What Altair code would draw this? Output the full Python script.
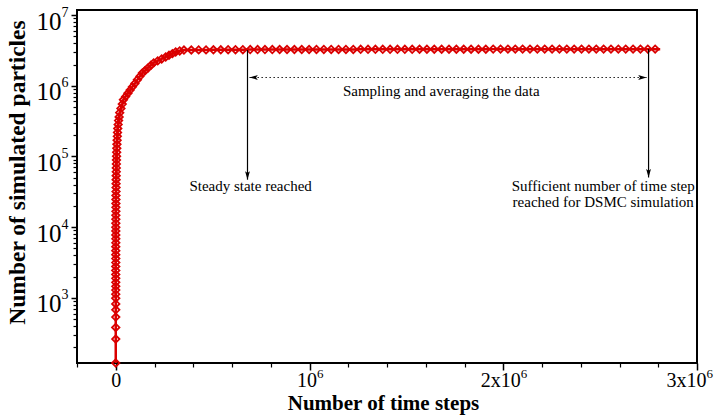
import altair as alt
import pandas as pd

# ---- particle count history (time step, number of simulated particles) ----
steps = [
    0, 10, 15, 22, 28, 34, 41, 47, 54, 61, 69, 79, 90, 102, 116, 132, 150, 170,
    194, 220, 250, 285, 324, 368, 417, 475, 542, 617, 700, 796, 904, 1030, 1170,
    1330, 1510, 1720, 1960, 2230, 2530, 2880, 3270, 3720, 4210, 4790, 5460, 6210,
    7080, 8040, 9130, 10400, 12200, 14500, 17500, 20600, 26800, 33500, 39700,
    51000, 62900, 74200, 86100, 99000, 111900, 124800, 137600, 152100, 166500,
    181500, 195900, 216500, 237100, 257800, 274800, 292300, 309300, 330000,
    352000, 390000, 428000, 466000, 504000, 542000, 580000, 618000, 656000,
    694000, 732000, 770000, 808000, 846000, 884000, 922000, 960000, 998000,
    1036000, 1074000, 1112000, 1150000, 1188000, 1226000, 1264000, 1302000,
    1340000, 1378000, 1416000, 1454000, 1492000, 1530000, 1568000, 1606000,
    1644000, 1682000, 1720000, 1758000, 1796000, 1834000, 1872000, 1910000,
    1948000, 1986000, 2024000, 2062000, 2100000, 2138000, 2176000, 2214000,
    2252000, 2290000, 2328000, 2366000, 2404000, 2442000, 2480000, 2518000,
    2556000, 2594000, 2632000, 2670000, 2708000, 2746000, 2784000,
]
particles = [
    120, 262, 382, 535, 678, 822, 990, 1130, 1290, 1460, 1660, 1890, 2150, 2450,
    2780, 3160, 3600, 4090, 4650, 5290, 6010, 6840, 7780, 8840, 10000, 11400,
    13000, 14800, 16800, 19100, 21700, 24700, 28100, 31900, 36300, 41300, 46900,
    53400, 60700, 69000, 78500, 89200, 101000, 115000, 131000, 149000, 170000,
    193000, 219000, 249000, 283000, 322000, 362000, 417000, 479000, 552000,
    635000, 705000, 784000, 870000, 968000, 1080000, 1220000, 1360000, 1520000,
    1650000, 1790000, 1950000, 2110000, 2250000, 2400000, 2560000, 2700000,
    2850000, 3010000, 3110000,
    3200000, 3210000, 3220000, 3220000, 3230000, 3230000, 3240000, 3240000,
    3240000, 3250000, 3250000, 3250000, 3250000, 3260000, 3260000, 3260000,
    3260000, 3260000, 3270000, 3270000, 3270000, 3270000, 3270000, 3270000,
    3280000, 3280000, 3280000, 3280000, 3280000, 3280000, 3280000, 3280000,
    3290000, 3290000, 3290000, 3290000, 3290000, 3290000, 3290000, 3290000,
    3290000, 3290000, 3300000, 3300000, 3300000, 3300000, 3300000, 3300000,
    3300000, 3300000, 3300000, 3300000, 3300000, 3300000, 3300000, 3300000,
    3300000, 3300000, 3300000, 3300000, 3300000, 3300000, 3300000, 3300000,
    3300000,
]
# last recorded step: the line runs on to it without a symbol
end_step = [2810000]
end_particles = [3300000]

# tick labels: mantissa text and superscript exponent drawn as separate labels
x_major = [0, 1000000, 2000000, 3000000]
x_base_labels = ["0", "10", "2x10", "3x10"]
x_exp_labels = ["", "6", "6", "6"]
y_major = [1e3, 1e4, 1e5, 1e6, 1e7]

RED = "#da0000"
SERIF = "Liberation Serif"

hist = pd.DataFrame({"step": steps, "n": particles})
line_df = pd.DataFrame({"step": steps + end_step, "n": particles + end_particles})

xscale = alt.Scale(domain=[-200000, 3000000], nice=False, zero=False)
yscale = alt.Scale(type="log", domain=[120, 11800000], nice=False)

x_minor = [v for v in range(-200000, 3000001, 200000) if v not in x_major]
y_minor = [m * 10 ** e for e in range(2, 7) for m in range(2, 10) if m * 10 ** e >= 120]


def lookup_expr(values, labels):
    parts = [f"datum.value == {v} ? '{t}'" for v, t in zip(values[:-1], labels[:-1])]
    return " : ".join(parts) + f" : '{labels[-1]}'"


x_exp_values = [v for v, t in zip(x_major, x_exp_labels) if t]

x_base_axis = alt.Axis(
    orient="bottom", values=x_major, labelExpr=lookup_expr(x_major, x_base_labels),
    tickSize=7, tickWidth=1.5, labelFontSize=20, labelPadding=0, labelFlush=False,
    labelOffset={
        "condition": [
            {"test": "datum.value == 0", "value": 0},
            {"test": "datum.value == 3000000", "value": -11},
        ],
        "value": -3,
    },
    grid=False, domain=False,
    title="Number of time steps", titleFontSize=21, titleFontWeight="bold",
    titleX=306, titleY=40, titleBaseline="middle", titleAlign="center",
)
x_exp_axis = alt.Axis(
    orient="bottom", values=x_exp_values,
    labelExpr=lookup_expr(x_exp_values, [t for t in x_exp_labels if t]),
    tickSize=3, tickOpacity=0, labelFontSize=13, labelPadding=1, labelAlign="left",
    labelFlush=False,
    labelOffset={
        "condition": [
            {"test": "datum.value == 1000000", "value": 7},
            {"test": "datum.value == 3000000", "value": 9},
        ],
        "value": 17,
    },
    grid=False, domain=False, title="",
)
x_minor_axis = alt.Axis(
    orient="bottom", values=x_minor, labels=False, tickSize=4, tickWidth=1.2,
    grid=False, domain=False, title="",
)

y_base_axis = alt.Axis(
    orient="left", values=y_major, labelExpr="'10'", tickSize=6, tickWidth=1.5,
    labelFontSize=25, labelPadding=10, labelOffset=6, labelBaseline="middle",
    labelFlush=False, grid=False, domain=False,
    title="Number of simulated particles", titleFontSize=23.5,
    titleFontWeight="bold", titleX=-60, titleY=162, titleBaseline="middle",
    titleAlign="center", titleAngle=-90,
)
y_exp_axis = alt.Axis(
    orient="left", values=y_major, labelExpr="format(log(datum.value) / LN10, '.0f')",
    tickSize=6, tickOpacity=0, labelFontSize=14, labelPadding=3, labelOffset=-3,
    labelBaseline="middle", labelFlush=False, grid=False, domain=False, title="",
)
y_minor_axis = alt.Axis(
    orient="left", values=y_minor, labels=False, tickSize=4, tickWidth=1.2,
    grid=False, domain=False, title="",
)

curve = alt.Chart(line_df).mark_line(color=RED, strokeWidth=2.5).encode(
    x=alt.X("step:Q", scale=xscale, axis=x_base_axis),
    y=alt.Y("n:Q", scale=yscale, axis=y_base_axis),
)
symbols = alt.Chart(hist).mark_point(
    shape="diamond", filled=False, color=RED, size=55, strokeWidth=1.8, opacity=1
).encode(
    x=alt.X("step:Q", scale=xscale, axis=x_minor_axis),
    y=alt.Y("n:Q", scale=yscale, axis=y_minor_axis),
)

# ---- annotations ----
ARROW = "M0,0L-0.8,-2.8L0,-2.2L0.8,-2.8Z"

vlines = pd.DataFrame({"x": [680000, 2750000], "top": [3200000, 3300000],
                       "tip": [47000, 50500]})
drops = alt.Chart(vlines).mark_rule(color="black", strokeWidth=1.2).encode(
    x=alt.X("x:Q", scale=xscale, axis=x_exp_axis),
    y=alt.Y("top:Q", scale=yscale, axis=y_exp_axis),
    y2="tip:Q",
)
drop_heads = alt.Chart(vlines).mark_point(
    shape=ARROW, filled=True, color="black", size=36, opacity=1
).encode(
    x=alt.X("x:Q", scale=xscale, axis=None),
    y=alt.Y("tip:Q", scale=yscale, axis=None),
)

span = pd.DataFrame({"x": [690000], "x2": [2740000], "y": [1310000]})
span_line = alt.Chart(span).mark_rule(
    color="#222222", strokeWidth=1.2, strokeDash=[1.5, 2.5]
).encode(
    x=alt.X("x:Q", scale=xscale, axis=None),
    x2="x2:Q",
    y=alt.Y("y:Q", scale=yscale, axis=None),
)
span_ends = pd.DataFrame({"x": [690000, 2740000], "y": [1310000, 1310000],
                          "angle": [90, 270]})
span_heads = alt.Chart(span_ends).mark_point(
    shape=ARROW, filled=True, color="black", size=36, opacity=1
).encode(
    x=alt.X("x:Q", scale=xscale, axis=None),
    y=alt.Y("y:Q", scale=yscale, axis=None),
    angle=alt.Angle("angle:Q", scale=None),
)

notes = pd.DataFrame({
    "x": [696000, 1680000, 2516000, 2516000],
    "y": [37800, 850000, 37800, 22500],
    "text": ["Steady state reached", "Sampling and averaging the data",
             "Sufficient number of time step", "reached for DSMC simulation"],
})
note_text = alt.Chart(notes).mark_text(
    font=SERIF, fontSize=15, color="black", align="center", baseline="middle"
).encode(
    x=alt.X("x:Q", scale=xscale, axis=None),
    y=alt.Y("y:Q", scale=yscale, axis=None),
    text="text:N",
)

chart = (
    alt.layer(curve, symbols, drops, drop_heads, span_line, span_heads, note_text)
    .resolve_axis(x="independent", y="independent")
    .properties(
        width=620, height=353,
        autosize=alt.AutoSizeParams(type="none"),
        padding={"left": 77, "top": 10, "right": 17, "bottom": 53},
        background="white",
    )
    .configure_view(stroke="black", strokeWidth=2)
    .configure_axis(
        labelFont=SERIF, titleFont=SERIF, labelColor="black",
        titleColor="black", tickColor="black",
    )
)

chart.save("out.html", embed_options={"renderer": "svg", "actions": False})
